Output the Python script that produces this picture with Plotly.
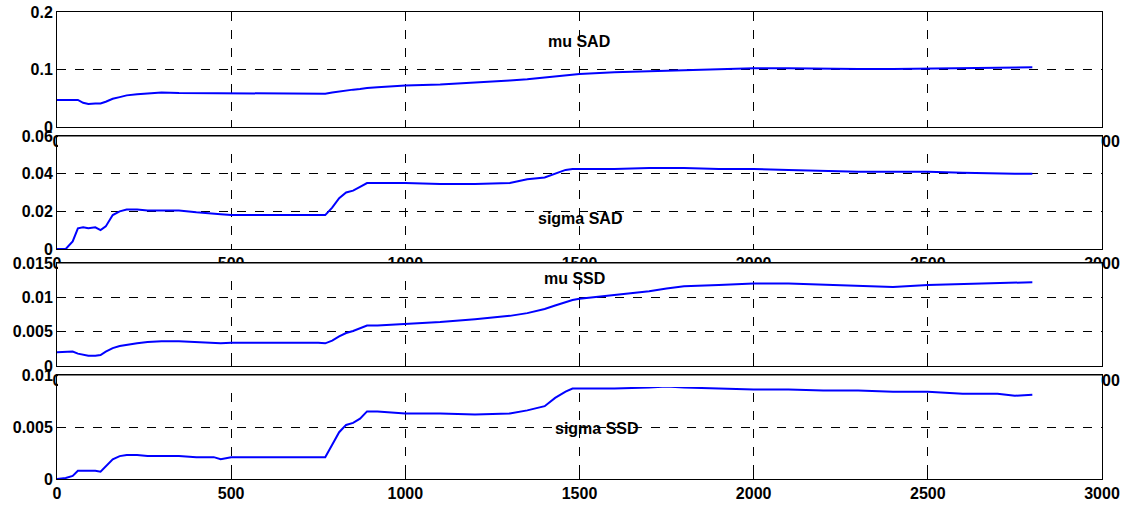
import plotly.graph_objects as go

W, H = 1127, 505

# ---- data ----
x_vals = [0, 25, 45, 60, 75, 90, 110, 125, 140, 160, 180, 200, 230, 260, 300, 350, 400, 450, 470, 500,
          550, 600, 650, 700, 750, 770, 790, 810, 830, 850, 870, 890, 920, 1000, 1100, 1200, 1300, 1350,
          1400, 1430, 1460, 1480, 1500, 1600, 1700, 1750, 1800, 1900, 2000, 2100, 2200, 2300, 2400, 2500,
          2600, 2700, 2750, 2800]

mu_sad = [0.047, 0.047, 0.048, 0.047, 0.042, 0.040, 0.041, 0.041, 0.044, 0.049, 0.052, 0.055, 0.057, 0.058,
          0.060, 0.059, 0.059, 0.058, 0.058, 0.058, 0.058, 0.059, 0.059, 0.059, 0.058, 0.058, 0.060, 0.062,
          0.064, 0.065, 0.066, 0.068, 0.069, 0.072, 0.074, 0.077, 0.081, 0.083, 0.086, 0.088, 0.090, 0.091,
          0.092, 0.095, 0.097, 0.098, 0.099, 0.101, 0.102, 0.102, 0.101, 0.101, 0.101, 0.102, 0.102, 0.103,
          0.104, 0.104]

sigma_sad = [0.000, 0.000, 0.004, 0.011, 0.0115, 0.011, 0.0115, 0.010, 0.012, 0.018, 0.020, 0.021, 0.021,
             0.0205, 0.0205, 0.0205, 0.0195, 0.019, 0.0185, 0.018, 0.018, 0.018, 0.0178, 0.018, 0.018, 0.018,
             0.022, 0.027, 0.030, 0.031, 0.033, 0.035, 0.035, 0.035, 0.0345, 0.0345, 0.035, 0.037, 0.038,
             0.040, 0.042, 0.0425, 0.0425, 0.0425, 0.043, 0.043, 0.043, 0.0425, 0.0425, 0.042, 0.0415, 0.041,
             0.041, 0.041, 0.0405, 0.040, 0.040, 0.040]

mu_ssd = [0.0020, 0.0020, 0.0021, 0.0018, 0.0016, 0.0015, 0.0015, 0.0016, 0.0021, 0.0026, 0.0029, 0.0031,
          0.0033, 0.0035, 0.0036, 0.0036, 0.0035, 0.0033, 0.0033, 0.0034, 0.0034, 0.0034, 0.0035, 0.0035,
          0.0034, 0.0033, 0.0037, 0.0043, 0.0048, 0.0051, 0.0055, 0.0059, 0.0059, 0.0061, 0.0064, 0.0068,
          0.0073, 0.0077, 0.0083, 0.0088, 0.0093, 0.0096, 0.0098, 0.0103, 0.0109, 0.0113, 0.0116, 0.0118,
          0.0120, 0.0120, 0.0118, 0.0116, 0.0115, 0.0118, 0.0119, 0.0120, 0.0121, 0.0122]

sigma_ssd = [0.0000, 0.0001, 0.0003, 0.0008, 0.0008, 0.0008, 0.0008, 0.0007, 0.0012, 0.0019, 0.0022, 0.0023,
             0.0023, 0.0022, 0.0022, 0.0022, 0.0021, 0.0021, 0.0019, 0.0021, 0.0021, 0.0021, 0.0021, 0.0021,
             0.0021, 0.0021, 0.0033, 0.0045, 0.0052, 0.0054, 0.0058, 0.0065, 0.0065, 0.0063, 0.0063, 0.0062,
             0.0063, 0.0066, 0.0070, 0.0078, 0.0084, 0.0087, 0.0087, 0.0087, 0.0088, 0.0089, 0.0088, 0.0087,
             0.0086, 0.0086, 0.0085, 0.0085, 0.0084, 0.0084, 0.0082, 0.0082, 0.0080, 0.0081]

panel_titles = ["mu SAD", "sigma SAD", "mu SSD", "sigma SSD"]
y_ranges = [[0, 0.2], [0, 0.06], [0, 0.015], [0, 0.01]]
y_dticks = [0.1, 0.02, 0.005, 0.005]
x_range = [0, 3000]
x_dtick = 500

series = [mu_sad, sigma_sad, mu_ssd, sigma_ssd]

# ---- layout geometry (pixels) ----
left_px, right_px = 57, 1102
panels_px = [(12, 127), (136, 249), (263, 366), (375, 479)]
title_pos_px = [(579, 42), (580, 219), (574, 278), (597, 428)]

def px_x(p):
    return p / W

def px_y(p):
    return 1 - p / H

font_family = "Liberation Sans, Arial, Helvetica, sans-serif"
tick_font = dict(family=font_family, size=16, color="black", weight="bold")

fig = go.Figure()
layout = dict(
    width=W, height=H,
    margin=dict(l=0, r=0, t=0, b=0, autoexpand=False),
    paper_bgcolor="white", plot_bgcolor="white",
    showlegend=False,
)

shapes = []
annotations = []
for i, (ys, (top, bot)) in enumerate(zip(series, panels_px)):
    n = "" if i == 0 else str(i + 1)
    fig.add_trace(go.Scatter(x=x_vals, y=ys, mode="lines",
                             line=dict(color="#0000ff", width=2),
                             xaxis="x" + n, yaxis="y" + n, hoverinfo="skip"))
    common = dict(showline=True, linecolor="black", linewidth=1, mirror=True,
                  ticks="inside", ticklen=5, tickcolor="black",
                  showgrid=True, gridcolor="black", griddash="dash", gridwidth=1,
                  zeroline=False, tickfont=tick_font, automargin=False)
    layout["xaxis" + n] = dict(domain=[px_x(left_px), px_x(right_px)], range=x_range,
                               tick0=0, dtick=x_dtick, anchor="y" + n, **common)
    layout["yaxis" + n] = dict(domain=[px_y(bot), px_y(top)], range=y_ranges[i],
                               tick0=0, dtick=y_dticks[i], anchor="x" + n, **common)
    tx, ty = title_pos_px[i]
    annotations.append(dict(text=panel_titles[i], x=px_x(tx), y=px_y(ty), xref="paper", yref="paper",
                            xanchor="center", yanchor="middle", showarrow=False,
                            font=dict(family=font_family, size=16, color="black", weight="bold")))
    # lower panels overlap the x tick labels of the panel above (as in the original)
    if i > 0:
        shapes.append(dict(type="rect", xref="paper", yref="paper", layer="above",
                           x0=px_x(left_px + 1), x1=px_x(right_px - 1),
                           y0=px_y(top + 12), y1=px_y(top),
                           fillcolor="white", line=dict(width=0)))
        shapes.append(dict(type="line", xref="paper", yref="paper", layer="above",
                           x0=px_x(left_px), x1=px_x(right_px), y0=px_y(top), y1=px_y(top),
                           line=dict(color="black", width=1)))

layout["shapes"] = shapes
layout["annotations"] = annotations
fig.update_layout(**layout)
fig.write_html("out.html")
